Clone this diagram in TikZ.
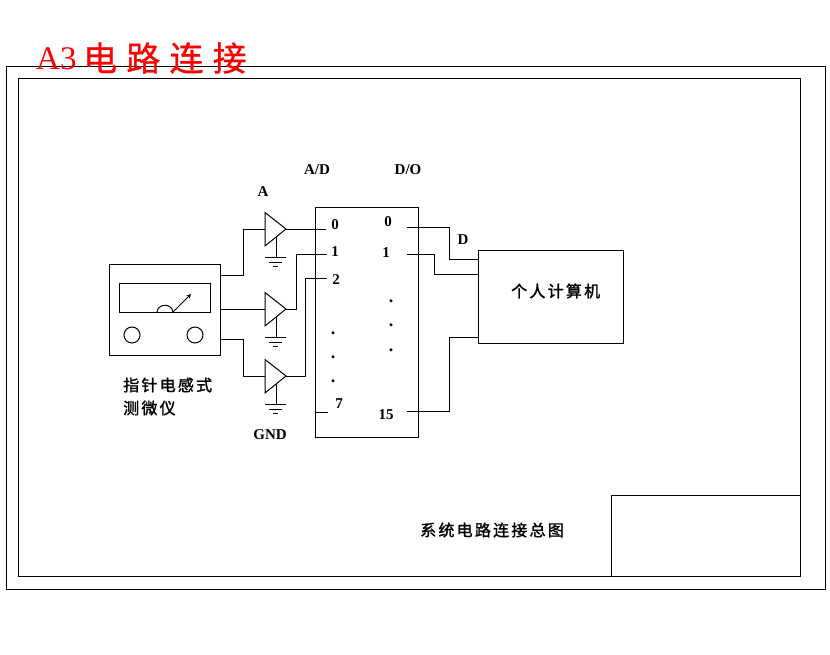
\documentclass[tikz,border=0pt]{standalone}
\usepackage{fontspec}
\setmainfont{Liberation Serif}
\newfontfamily\cjkf[LetterSpace=14,FakeBold=1.5]{Noto Sans CJK SC}
\newfontfamily\cjkt[LetterSpace=27,FakeBold=0.8]{Noto Sans CJK SC}
\tikzset{
  ln/.style={draw=black,line width=1pt,line join=miter},
  boxn/.style={rectangle,ln,inner sep=0pt,anchor=north west},
  lat/.style={font=\bfseries\fontsize{15}{15}\selectfont,inner sep=0pt},
  dotl/.style={font=\bfseries\fontsize{18}{18}\selectfont,inner sep=0pt,anchor=base},
  cjk/.style={font=\cjkf\fontsize{16}{16}\selectfont,inner sep=0pt},
  ttl/.style={text=red,inner sep=0pt,anchor=west},
}
\newcommand{\ampl}[2]{% name, mid y
  \coordinate (#1in) at (265,#2);
  \coordinate (#1out) at (286,#2);
  \coordinate (#1g) at (276,#2+28);
  \draw[ln] (265,#2-16.5) -- (#1out) -- (265,#2+17) -- cycle;
  \draw[ln] (276,#2+8) -- (#1g);
  \draw[ln] (265,#2+28) -- (286,#2+28);
  \draw[ln] (269,#2+33) -- (282,#2+33);
  \draw[ln] (273,#2+37.5) -- (278,#2+37.5);
}
\begin{document}
\begin{tikzpicture}[x=1pt,y=-1pt]
\useasboundingbox (0,0) rectangle (830,654);
% frames
\node[boxn,minimum width=818.5pt,minimum height=523pt] (outer) at (6,66) {};
\node[boxn,minimum width=781.5pt,minimum height=498pt] (inner) at (18,78) {};
\node[boxn,minimum width=188.5pt,minimum height=81pt] (tblock) at (611,495) {};
% meter
\node[boxn,minimum width=111pt,minimum height=91pt] (meter) at (109,264) {};
\node[boxn,minimum width=90.5pt,minimum height=29pt] (screen) at (119,283) {};
\node[circle,ln,inner sep=0pt,minimum size=16pt] (k1) at (132,335) {};
\node[circle,ln,inner sep=0pt,minimum size=16pt] (k2) at (195,335) {};
\draw[ln] (157,312) .. controls (158,303) and (172,303) .. (173,312);
\draw[ln,-stealth] (173,312) -- (191,294);
% amplifiers
\ampl{a}{229}
\ampl{b}{309}
\ampl{c}{376}
% boxes
\node[boxn,minimum width=103pt,minimum height=230pt] (adc) at (315,207) {};
\node[boxn,minimum width=144.5pt,minimum height=93pt] (pc) at (478,250) {};
% connector ends
\coordinate (m1) at (220,275);
\coordinate (m2) at (220,309);
\coordinate (m3) at (220,339);
\coordinate (i0) at (326,229);
\coordinate (i1) at (327,254);
\coordinate (i2) at (327,278);
\coordinate (o0) at (407,227);
\coordinate (o1) at (407,254);
\coordinate (o15) at (407,411);
\coordinate (p0) at (478,259);
\coordinate (p1) at (478,274);
\coordinate (p15) at (478,337);
\coordinate (i7) at (328,412);
% connectors
\draw[ln] (m1) -- (243,275) -- (243,229) -- (ain);
\draw[ln] (m2) -- (bin);
\draw[ln] (m3) -- (243,339) -- (243,376) -- (cin);
\draw[ln] (aout) -- (i0);
\draw[ln] (bout) -- (296,309) -- (296,254) -- (i1);
\draw[ln] (cout) -- (305,376) -- (305,278) -- (i2);
\draw[ln] (adc.west |- i7) -- (i7);
\draw[ln] (o0) -- (449,227) -- (449,259) -- (p0);
\draw[ln] (o1) -- (434,254) -- (434,274) -- (p1);
\draw[ln] (o15) -- (449,411) -- (449,337) -- (p15);
% labels
\node[lat] (lad) at (317,170) {A/D};
\node[lat] (ldo) at (408,170) {D/O};
\node[lat] (la) at (263,192) {A};
\node[lat] (ld) at (463,240) {D};
\node[lat] (lgnd) at (270,435) {GND};
\node[lat] (n0) at (335,225) {0};
\node[lat] (n1) at (335,252) {1};
\node[lat] (n2) at (336,280) {2};
\node[lat] (n7) at (339,404) {7};
\node[lat] (r0) at (388,222) {0};
\node[lat] (r1) at (386,253) {1};
\node[lat] (r15) at (386,415) {15};
\node[dotl] (d1) at (333,334) {.};
\node[dotl] (d2) at (333,358) {.};
\node[dotl] (d3) at (333,382) {.};
\node[dotl] (d4) at (391,302) {.};
\node[dotl] (d5) at (391,326) {.};
\node[dotl] (d6) at (391,351) {.};
\node[cjk,anchor=west] (tpc) at (511,291) {个人计算机};
\node[cjk,anchor=west] (tm1) at (123,385) {指针电感式};
\node[cjk,anchor=west] (tm2) at (123,408) {测微仪};
\node[cjk,anchor=west] (tsys) at (420,530) {系统电路连接总图};
\node[ttl,font=\fontsize{33}{33}\selectfont] (t1) at (36,59) {A3};
\node[ttl,font=\cjkt\fontsize{34}{34}\selectfont] (t2) at (83,58) {电路连接};
\end{tikzpicture}
\end{document}
